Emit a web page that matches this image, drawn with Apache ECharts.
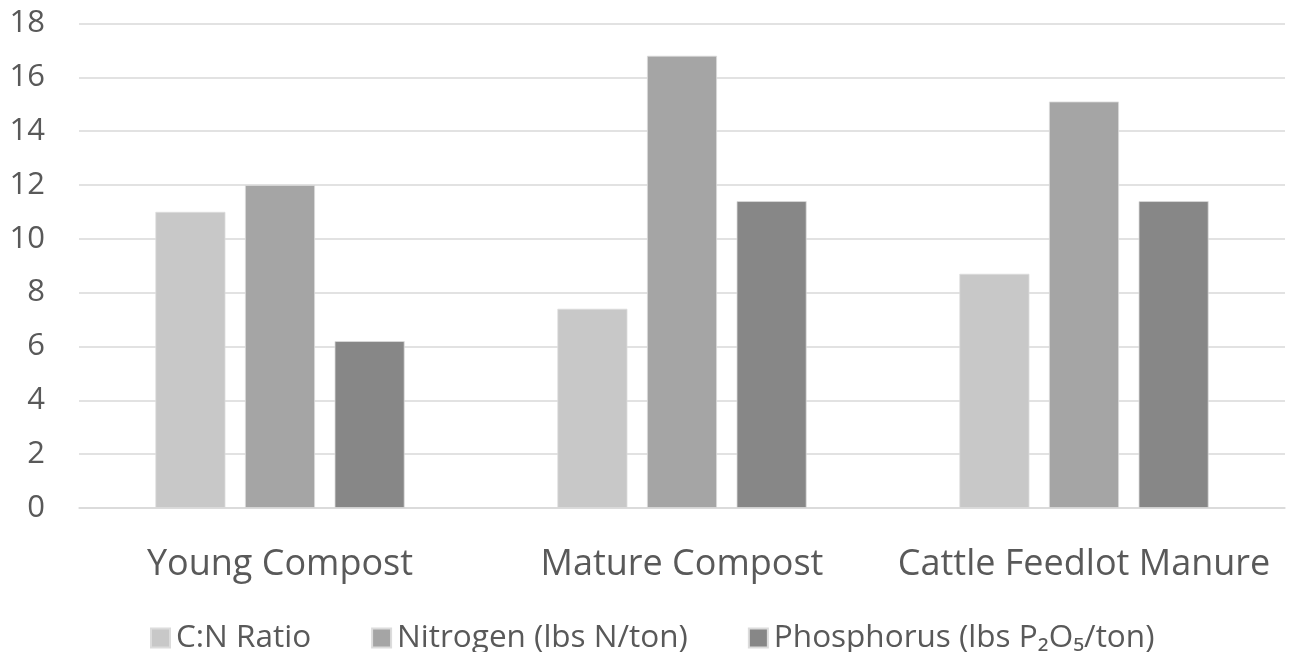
<!DOCTYPE html>
<html>
<head>
<meta charset="utf-8">
<script src="https://cdn.jsdelivr.net/npm/echarts@6/dist/echarts.min.js"></script>
<style>
  html, body { margin: 0; padding: 0; background: #ffffff; }
  #chart { width: 1289px; height: 652px; }
</style>
</head>
<body>
<div id="chart"></div>
<script>
// Compost and manure nutrient comparison
const categories = ['Young Compost', 'Mature Compost', 'Cattle Feedlot Manure'];
const seriesNames = ['C:N Ratio', 'Nitrogen (lbs N/ton)', 'Phosphorus (lbs P\u2082O\u2085/ton)'];
const cnRatio = [11, 7.4, 8.7];
const nitrogen = [12, 16.8, 15.1];
const phosphorus = [6.2, 11.4, 11.4];
const yTicks = { min: 0, max: 18, interval: 2 };

const colors = ['#c8c8c8', '#a5a5a5', '#878787'];
const font = '"Open Sans", "Liberation Sans", sans-serif';

const chart = echarts.init(document.getElementById('chart'), null, { renderer: 'canvas' });

const values = [cnRatio, nitrogen, phosphorus];

chart.setOption({
  animation: false,
  backgroundColor: '#ffffff',
  color: colors,
  grid: { left: 79, right: 4, top: 23.5, bottom: 144, containLabel: false },
  legend: {
    top: 617,
    left: 145,
    itemWidth: 19,
    itemHeight: 19,
    itemGap: 60,
    icon: 'rect',
    textStyle: { fontFamily: font, fontSize: 31.5, color: '#595959', padding: [0, 0, 0, 1] },
    data: seriesNames
  },
  xAxis: {
    type: 'category',
    data: categories,
    axisLine: { show: true, lineStyle: { color: '#d9d9d9', width: 1.5 } },
    axisTick: { show: false },
    axisLabel: {
      fontFamily: font, fontSize: 36, color: '#595959', margin: 39,
      interval: 0, hideOverlap: false
    }
  },
  yAxis: {
    type: 'value',
    min: yTicks.min,
    max: yTicks.max,
    interval: yTicks.interval,
    axisLine: { show: false },
    axisTick: { show: false },
    splitLine: { lineStyle: { color: '#d9d9d9', width: 1.5 } },
    axisLabel: { fontFamily: font, fontSize: 31, color: '#595959', margin: 34 }
  },
  series: values.map((arr, i) => ({
    name: seriesNames[i],
    type: 'bar',
    data: arr,
    barWidth: 70,
    barGap: '28%',
    itemStyle: { color: colors[i], borderColor: '#dcdcdc', borderWidth: 0.8 }
  }))
});
</script>
</body>
</html>
